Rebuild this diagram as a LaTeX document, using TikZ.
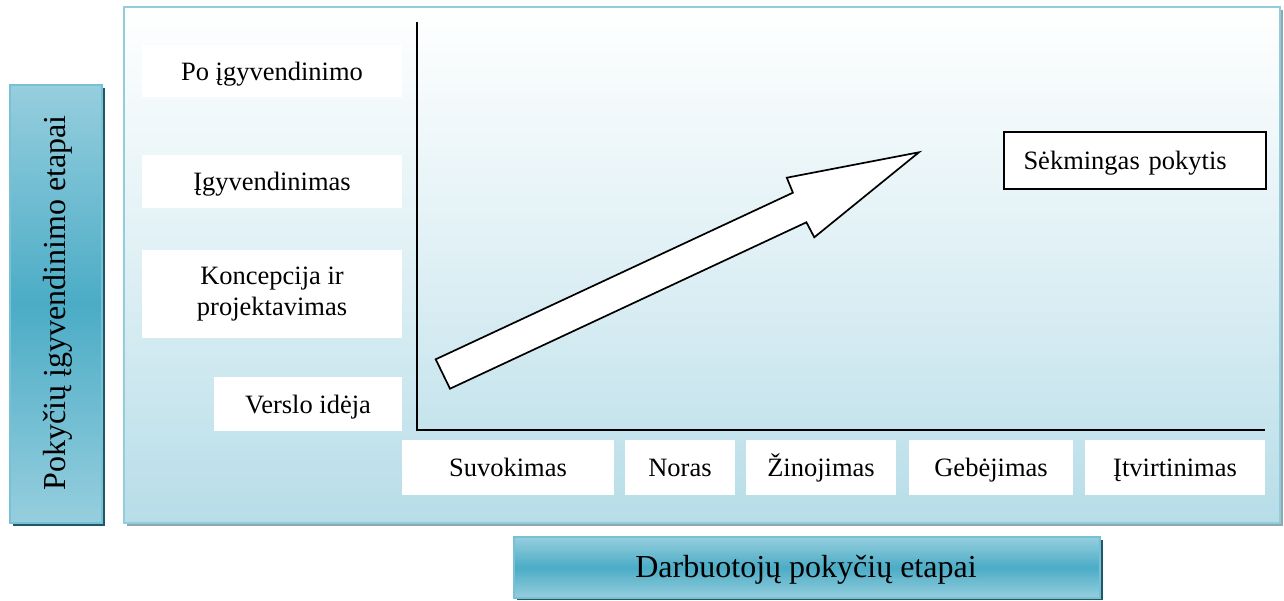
\documentclass[tikz,border=0pt]{standalone}
\usepackage{fontspec}
\setmainfont{Liberation Serif}
\definecolor{panelbd}{RGB}{146,205,220}
\definecolor{panelbot}{RGB}{183,221,232}
\definecolor{panelsh}{RGB}{142,168,174}
\definecolor{lblight}{RGB}{150,206,222}
\definecolor{lbdark}{RGB}{75,172,198}
\definecolor{lbsh}{RGB}{33,88,104}
\definecolor{lbbd}{RGB}{120,192,212}
\tikzset{
  lbl/.style={font=\fontsize{26.5}{31}\selectfont, text height=21pt, text depth=3pt},
  wbox/.style={lbl, fill=white, draw=none, inner sep=0pt, align=center},
  big/.style={font=\fontsize{32}{38}\selectfont, text height=24pt, text depth=4pt},
}
\begin{document}
\begin{tikzpicture}[x=1pt,y=-1pt]
\useasboundingbox (0,0) rectangle (1284,600);
% main panel
\fill[panelsh] (127,10) rectangle (1283,526);
\shade[top color=white, bottom color=panelbot, middle color=white!55!panelbot] (124,7) rectangle (1280,523);
\draw[panelbd, line width=2.5pt] (124,7) rectangle (1280,523);
% left label box
\fill[lbsh] (13,88) rectangle (105,526);
\shade[top color=lblight, bottom color=lblight, middle color=lbdark] (10,85) rectangle (102,523);
\draw[lbbd, line width=1.5pt] (10,85) rectangle (102,523);
\node[big, rotate=90] (ylab) at (55,303) {Pokyčių įgyvendinimo etapai};
% bottom label box
\fill[lbsh] (517,540) rectangle (1103,600);
\shade[top color=lblight, bottom color=lblight, middle color=lbdark] (514,537) rectangle (1100,598);
\draw[lbbd, line width=1.5pt] (514,537) rectangle (1100,598);
\node[big] (xlab) at (806,567.5) {Darbuotojų pokyčių etapai};
% axes
\coordinate (ytop) at (417,22);
\coordinate (orig) at (417,430);
\coordinate (xend) at (1265,430);
\draw[line width=1.6pt] (ytop) -- (orig) -- (xend);
% y labels
\node[wbox, minimum width=260pt, minimum height=52pt] (po) at (272,71) {Po įgyvendinimo};
\node[wbox, minimum width=260pt, minimum height=53pt] (igy) at (272,181.5) {Įgyvendinimas};
\node[wbox, minimum width=260pt, minimum height=88pt, text height=, text depth=] (konc) at (272,294) {Koncepcija ir\\projektavimas};
\node[wbox, minimum width=188pt, minimum height=54pt] (vers) at (308,404) {Verslo idėja};
% x labels
\node[wbox, minimum width=212pt, minimum height=55pt] (suv) at (508,467.5) {Suvokimas};
\node[wbox, minimum width=110pt, minimum height=55pt] (nor) at (680,467.5) {Noras};
\node[wbox, minimum width=150pt, minimum height=55pt] (zin) at (821,467.5) {Žinojimas};
\node[wbox, minimum width=164pt, minimum height=55pt] (geb) at (991,467.5) {Gebėjimas};
\node[wbox, minimum width=180pt, minimum height=55pt] (itv) at (1175,467.5) {Įtvirtinimas};
% success box
\node[lbl, fill=white, draw=black, line width=2pt, minimum height=57pt, inner xsep=20pt, text width=222pt, align=left] (sek) at (1134.5,160) {Sėkmingas pokytis};
% big arrow
\draw[fill=white, line width=1.7pt, line join=miter]
  (435.7,359.3) -- (792.9,192.7) -- (786.8,177.7) -- (918.9,152.3)
  -- (814.3,237.3) -- (806.4,222.3) -- (450,388.7) -- cycle;
\end{tikzpicture}
\end{document}
